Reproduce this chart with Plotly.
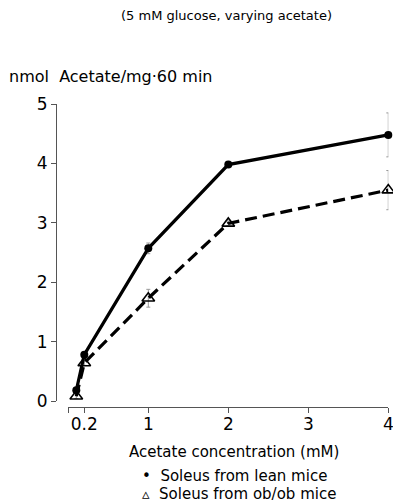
import plotly.graph_objects as go

# Data
acetate_mM = [0.1, 0.2, 1, 2, 4]
lean_values = [0.18, 0.78, 2.57, 3.98, 4.48]
lean_err = [0.04, 0.04, 0.09, 0.04, 0.37]
obob_values = [0.08, 0.64, 1.73, 2.99, 3.55]
obob_err = [0.04, 0.04, 0.15, 0.04, 0.33]

x_tickvals = [0, 0.2, 1, 2, 3, 4]
x_ticktext = ["", "0.2", "1", "2", "3", "4"]
y_tickvals = [0, 1, 2, 3, 4, 5]

title_text = "(5 mM glucose, varying acetate)"
ylabel_text = "nmol  Acetate/mg\u00b760 min"
xlabel_text = "Acetate concentration (mM)"
legend_lean = "\u2022  Soleus from lean mice"
legend_obob = "\u25b5  Soleus from ob/ob mice"

W, H = 393, 504
FONT = "DejaVu Sans"

def px(x):
    return x / W

def py(y):
    return 1 - y / H

fig = go.Figure()

fig.add_trace(go.Scatter(
    x=acetate_mM, y=obob_values, mode="lines+markers",
    line=dict(color="black", width=3.2, dash="12px,6px"),
    marker=dict(symbol="triangle-up-open", size=11, color="black", line=dict(width=1.6, color="black")),
    error_y=dict(type="data", array=obob_err, color="#999", thickness=1, width=2),
    cliponaxis=False, showlegend=False,
))
fig.add_trace(go.Scatter(
    x=acetate_mM, y=lean_values, mode="lines+markers",
    line=dict(color="black", width=3.2),
    marker=dict(symbol="circle", size=8, color="black"),
    error_y=dict(type="data", array=lean_err, color="#999", thickness=1, width=2),
    cliponaxis=False, showlegend=False,
))

fig.update_layout(
    width=W, height=H,
    template="none",
    paper_bgcolor="white", plot_bgcolor="white",
    margin=dict(l=0, r=0, t=0, b=0),
    font=dict(family=FONT, color="black"),
    xaxis=dict(
        domain=[px(68.3), px(388.3)], range=[0, 4],
        anchor="free", position=py(406.7),
        tickvals=x_tickvals, ticktext=x_ticktext,
        showline=True, linecolor="#555", linewidth=1,
        ticks="outside", ticklen=5, tickcolor="#555", tickwidth=1,
        tickfont=dict(family=FONT, size=17, color="black"),
        ticklabeloverflow="allow", ticklabelstandoff=-3,
        showgrid=False, zeroline=False, automargin=False,
    ),
    yaxis=dict(
        domain=[py(401), py(104)], range=[0, 5],
        anchor="free", position=px(56),
        tickvals=y_tickvals,
        showline=True, linecolor="#555", linewidth=1,
        ticks="outside", ticklen=5, tickcolor="#555", tickwidth=1,
        tickfont=dict(family=FONT, size=17, color="black"),
        ticklabeloverflow="allow",
        showgrid=False, zeroline=False, automargin=False,
    ),
    annotations=[
        dict(text=title_text, x=px(226), y=py(15), xref="paper", yref="paper",
             showarrow=False, xanchor="center", yanchor="middle",
             font=dict(family=FONT, size=13)),
        dict(text=ylabel_text, x=px(7), y=py(76), xref="paper", yref="paper",
             showarrow=False, xanchor="left", yanchor="middle",
             font=dict(family=FONT, size=16)),
        dict(text=xlabel_text, x=px(234), y=py(452), xref="paper", yref="paper",
             showarrow=False, xanchor="center", yanchor="middle",
             font=dict(family=FONT, size=15)),
        dict(text=legend_lean, x=px(140), y=py(476), xref="paper", yref="paper",
             showarrow=False, xanchor="left", yanchor="middle",
             font=dict(family=FONT, size=15)),
        dict(text=legend_obob, x=px(140), y=py(494), xref="paper", yref="paper",
             showarrow=False, xanchor="left", yanchor="middle",
             font=dict(family=FONT, size=15)),
    ],
)

fig.write_html(
    "out.html",
    config={"displayModeBar": False},
    post_script=(
        "document.body.style.margin='0';"
        "document.body.style.overflow='hidden';"
        "document.documentElement.style.overflow='hidden';"
    ),
)
